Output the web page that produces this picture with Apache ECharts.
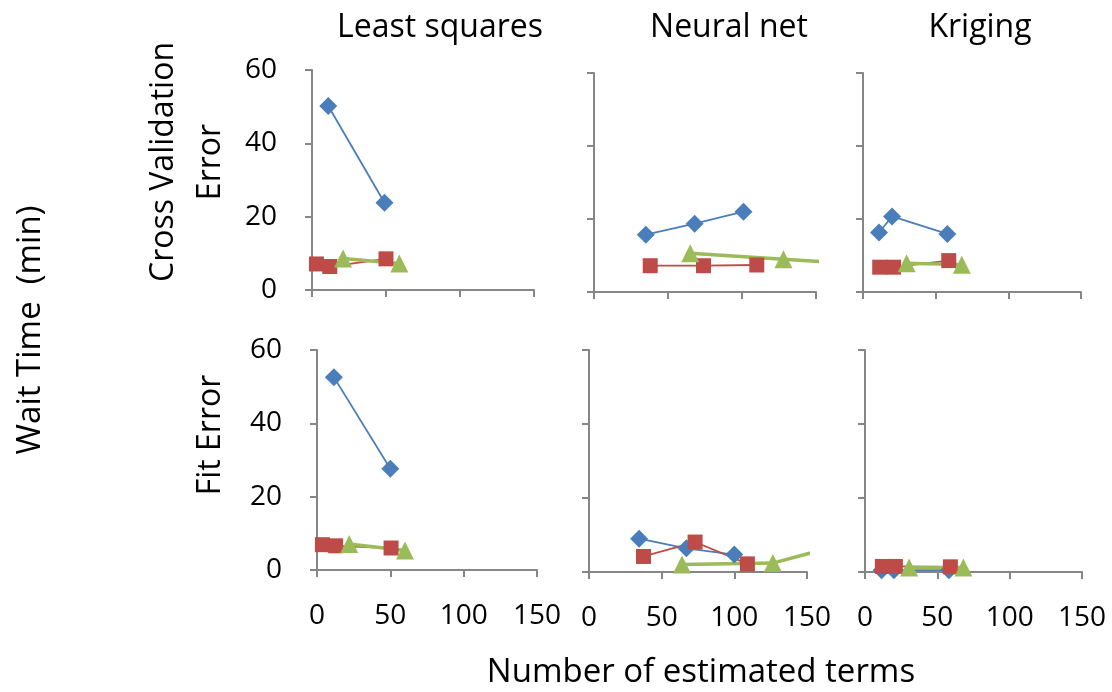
<!DOCTYPE html>
<html>
<head>
<meta charset="utf-8">
<script src="https://cdn.jsdelivr.net/npm/echarts@6/dist/echarts.min.js"></script>
<style>
  html, body { margin: 0; padding: 0; background: #fff; }
  #chart-container { width: 1112px; height: 692px; }
</style>
</head>
<body>
<div id="chart-container"></div>
<script>
var dom = document.getElementById('chart-container');
var myChart = echarts.init(dom, null, { renderer: 'canvas' });

// column titles
var methods = ['Least squares', 'Neural net', 'Kriging'];
var rowNames = ['Cross Validation\nError', 'Fit Error'];

// [estimated terms, wait time] per panel, one list per method
var cvBlue = [
  [[11, 50.2], [49, 23.8]],
  [[35, 15.7], [68, 18.7], [101, 22]],
  [[11, 16.3], [20, 20.7], [58, 15.9]]
];
var cvRed = [
  [[3, 7.1], [12, 6.4], [50, 8.5]],
  [[38, 7.2], [74, 7.2], [110, 7.4]],
  [[11.5, 6.8], [21, 6.8], [59, 8.6]]
];
var cvGreen = [
  [[21, 8.6], [59, 7.2]],
  [[65, 10.6], [128, 9], [200, 7.1]],
  [[30, 7.9], [68, 7.5]]
];
var fitBlue = [
  [[11.5, 52.6], [50, 27.6]],
  [[34.5, 9], [67, 6.4], [100, 4.7]],
  [[11.5, 0.5], [20, 0.5], [58, 0.5]]
];
var fitRed = [
  [[3.7, 6.9], [12.7, 6.6], [50.5, 6]],
  [[37.5, 4.2], [73, 8.1], [109, 2.2]],
  [[12, 1.5], [21, 1.5], [59, 1.4]]
];
var fitGreen = [
  [[22, 7.1], [60, 5.3]],
  [[64, 2.0], [126.5, 2.4], [175, 7.5]],
  [[30.5, 1.2], [68, 1.2]]
];

var axisColor = '#868686';
var fontFam = '"Open Sans", sans-serif';

// panel boxes: [left, top, width, height]
var boxes = [
  [312, 70, 222, 220], [594, 73, 222, 219], [863, 73, 218, 219],
  [317, 350, 220, 220], [589, 350, 218, 222], [865, 350, 217, 222]
];

var grids = [], xAxes = [], yAxes = [], series = [];
var rowData = [[cvBlue, cvRed, cvGreen], [fitBlue, fitRed, fitGreen]];
var colors = ['#4A7EBB', '#BE4B48', '#9BBB59'];
var symbols = ['diamond', 'rect', 'triangle'];
var symSizes = [18, 15, 18];
var widths = [1.8, 1.8, 3.5];

for (var r = 0; r < 2; r++) {
  for (var c = 0; c < 3; c++) {
    var i = r * 3 + c;
    var b = boxes[i];
    grids.push({ left: b[0], top: b[1], width: b[2], height: b[3] });
    xAxes.push({
      type: 'value', gridIndex: i, min: 0, max: 150, interval: 50,
      splitLine: { show: false },
      axisLine: { onZero: false, lineStyle: { color: axisColor, width: 2 } },
      axisTick: { length: 7, lineStyle: { color: axisColor, width: 2 } },
      axisLabel: { show: r === 1, color: '#000', fontSize: 28, fontFamily: fontFam, margin: 32 }
    });
    yAxes.push({
      type: 'value', gridIndex: i, min: 0, max: 60, interval: 20,
      splitLine: { show: false },
      axisLine: { show: true, lineStyle: { color: axisColor, width: 2 } },
      axisTick: { show: true, length: 7, lineStyle: { color: axisColor, width: 2 } },
      axisLabel: { show: c === 0, color: '#000', fontSize: 28, fontFamily: fontFam, margin: 35 }
    });
    for (var s = 0; s < 3; s++) {
      series.push({
        type: 'line',
        xAxisIndex: i, yAxisIndex: i,
        data: rowData[r][s][c],
        symbol: symbols[s],
        symbolSize: symSizes[s],
        showAllSymbol: true,
        clip: true,
        itemStyle: { color: colors[s] },
        lineStyle: { color: colors[s], width: widths[s] },
        animation: false
      });
    }
  }
}

var titleX = [440, 729, 980];
var texts = methods.map(function (m, k) {
  return {
    type: 'text', x: titleX[k], y: 28,
    style: { text: m, fill: '#000', font: '32px ' + fontFam, align: 'center', verticalAlign: 'middle' }
  };
});
texts.push(
  {
    type: 'text', x: 187, y: 162, rotation: Math.PI / 2,
    style: { text: rowNames[0], fill: '#000', font: '32px ' + fontFam, lineHeight: 47, align: 'center', verticalAlign: 'middle' }
  },
  {
    type: 'text', x: 211, y: 435, rotation: Math.PI / 2,
    style: { text: rowNames[1], fill: '#000', font: '32px ' + fontFam, align: 'center', verticalAlign: 'middle' }
  },
  {
    type: 'text', x: 31, y: 330, rotation: Math.PI / 2,
    style: { text: 'Wait Time  (min)', fill: '#000', font: '33px ' + fontFam, align: 'center', verticalAlign: 'middle' }
  },
  {
    type: 'text', x: 701, y: 673,
    style: { text: 'Number of estimated terms', fill: '#000', font: '33px ' + fontFam, align: 'center', verticalAlign: 'middle' }
  }
);

var option = {
  animation: false,
  grid: grids,
  xAxis: xAxes,
  yAxis: yAxes,
  series: series,
  graphic: texts
};

myChart.setOption(option);
window.addEventListener('resize', myChart.resize);
</script>
</body>
</html>
